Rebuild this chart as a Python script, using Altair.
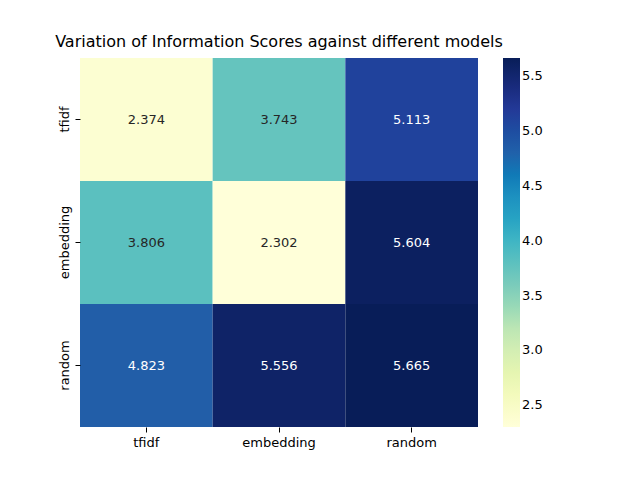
import altair as alt
import pandas as pd

rows = ["tfidf", "embedding", "random"]
cols = ["tfidf", "embedding", "random"]
values = [[2.374, 3.743, 5.113],
          [3.806, 2.302, 5.604],
          [4.823, 5.556, 5.665]]

data = pd.DataFrame([{"row": r, "col": c, "v": values[i][j]}
                     for i, r in enumerate(rows) for j, c in enumerate(cols)])

F = "DejaVu Sans"
ylgnbu = ["#ffffd9", "#edf8b1", "#c7e9b4", "#7fcdbb", "#41b6c4", "#1d91c0", "#225ea8", "#253494", "#081d58"]
base = alt.Chart(data)
heat = base.mark_rect(strokeWidth=0).encode(
    x=alt.X("col:N", sort=cols, title=None,
            axis=alt.Axis(labelAngle=0, labelFont=F, labelFontSize=13, labelColor="black",
                          domain=False, tickColor="black", tickSize=5, labelPadding=4)),
    y=alt.Y("row:N", sort=rows, title=None,
            axis=alt.Axis(labelAngle=-90, labelFont=F, labelFontSize=13, labelColor="black",
                          domain=False, tickColor="black", tickSize=5, labelAlign="center",
                          labelBaseline="bottom", labelPadding=4)),
    color=alt.Color("v:Q", scale=alt.Scale(range=ylgnbu, domain=[2.302, 5.665]),
                    title=None,
                    legend=alt.Legend(gradientLength=369, gradientThickness=17, offset=25,
                                      values=[2.5, 3.0, 3.5, 4.0, 4.5, 5.0, 5.5], format=".1f",
                                      labelFont=F, labelFontSize=13, labelColor="black",
                                      gradientStrokeWidth=0)),
)
text = base.mark_text(font=F, fontSize=13).encode(
    x=alt.X("col:N", sort=cols), y=alt.Y("row:N", sort=rows),
    text=alt.Text("v:Q", format=".3f"),
    color=alt.condition("datum.v > 4.5", alt.value("white"), alt.value("#262626")),
)
chart = (heat + text).properties(
    width=398, height=369,
    title=alt.TitleParams("Variation of Information Scores against different models",
                          font=F, fontSize=16, fontWeight="normal", anchor="middle", offset=8,
                          color="black"),
    autosize=alt.AutoSizeParams(type="none"),
    padding={"left": 72, "top": 50, "right": 130, "bottom": 50},
).configure_view(stroke=None)
chart.save("out.html", embed_options={"renderer": "svg", "actions": False})
